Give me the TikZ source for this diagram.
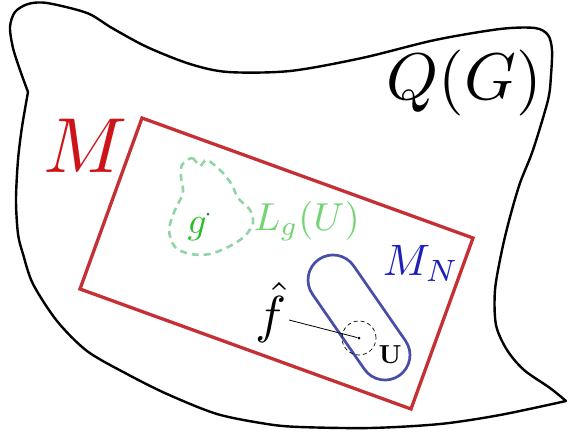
\documentclass[tikz,border=0pt]{standalone}
\usepackage{amsmath,amssymb}
\usepackage{tikz}
\usetikzlibrary{positioning,calc,shapes.misc}
\definecolor{MBoxRed}{RGB}{196,48,52}
\definecolor{MTextRed}{RGB}{205,20,25}
\definecolor{MNBlue}{RGB}{72,78,168}
\definecolor{MNText}{RGB}{30,30,185}
\definecolor{LGreenLine}{RGB}{145,212,165}
\definecolor{LGreenText}{RGB}{115,212,115}
\definecolor{GText}{RGB}{40,190,40}
\definecolor{GDot}{RGB}{20,130,70}

\begin{document}
\begin{tikzpicture}[
    x=1pt, y=-1pt,
    blob/.style={
        draw=black,
        line width=2.4pt,
        line join=round
    },
    mbox/.style={
        draw=MBoxRed,
        line width=3.3pt
    },
    nbox/.style={
        draw=MNBlue,
        line width=2.7pt,
        rounded rectangle,
        minimum width=141.3pt,
        minimum height=50pt,
        inner sep=0pt,
        rotate=-55.3
    },
    nbhd/.style={
        draw=LGreenLine,
        line width=2.6pt,
        dash pattern=on 7pt off 5pt
    },
    lbl/.style={
        inner sep=0pt,
        anchor=base west
    },
    pt/.style={
        circle,
        fill,
        inner sep=0pt,
        minimum size=3pt
    }
]
\useasboundingbox (0,0) rectangle (568,434);

% the space Q(G)
\draw[blob] plot[smooth] coordinates {(28,92) (20,70) (13,48) (10,27) (15,12) (28,4) (47,3) (87,13) (112,28) (147,47) (190,64) (228,72) (290,71) (362,58) (435,40) (500,29) (535,28) (548,35) (552,50) (551,75) (548,100) (533,150) (520,183) (510,217) (502,250) (495,290) (496,325) (507,350) (524,370) (550,388) (566,401)}
    -- plot[smooth] coordinates {(566,401) (500,415) (440,424) (370,428) (300,427) (267,424) (217,414) (167,394) (127,374) (87,351) (57,321) (33,284) (23,254) (18,234) (16,200) (18,160) (22,127) (28,92)}
    -- cycle;

% the box M
\draw[mbox] (142,118) -- (473,238) -- (411,409) -- (80,289) -- cycle;

% neighbourhood L_g(U)
\draw[nbhd] plot[smooth cycle] coordinates {(182,165) (192,158) (200,166) (207,160) (222,172) (232,185) (238,198) (250,210) (253,223) (245,236) (230,246) (210,254) (190,254) (175,247) (169,230) (175,210) (183,193) (181,177)};

% the set M_N
\node[nbox] (mn) at (359,317.5) {};

% labels
\node[lbl, text=MTextRed, scale=7.8] (mlab) at (42,172) {$M$};
\node[lbl, scale=6.6] (qlab) at (385,99) {$Q(G)$};
\node[lbl, text=MNText, scale=4.4] (mnlab) at (382,275) {$M_N$};
\node[lbl, text=LGreenText, scale=3.9] (lglab) at (253,230) {$L_g(U)$};
\node[lbl, text=GText, scale=3.7] (glab) at (187,233) {$g$};
\node[pt, fill=GDot] (gdot) at (208,214) {};
\node[lbl, scale=5.2] (fhat) at (254,332) {$\hat{f}$};
\node[lbl, scale=2.6] (ulab) at (378,363) {$\mathbf{U}$};

% the point f and its ball U
\node[pt] (udot) at (359,338) {};
\node[draw, circle, line width=0.7pt, dash pattern=on 4pt off 3pt,
      minimum size=34pt, inner sep=0pt] (ucirc) at (udot) {};
\coordinate (fstart) at (289,320);
\draw[line width=0.8pt] (fstart) -- (udot);

\end{tikzpicture}
\end{document}
